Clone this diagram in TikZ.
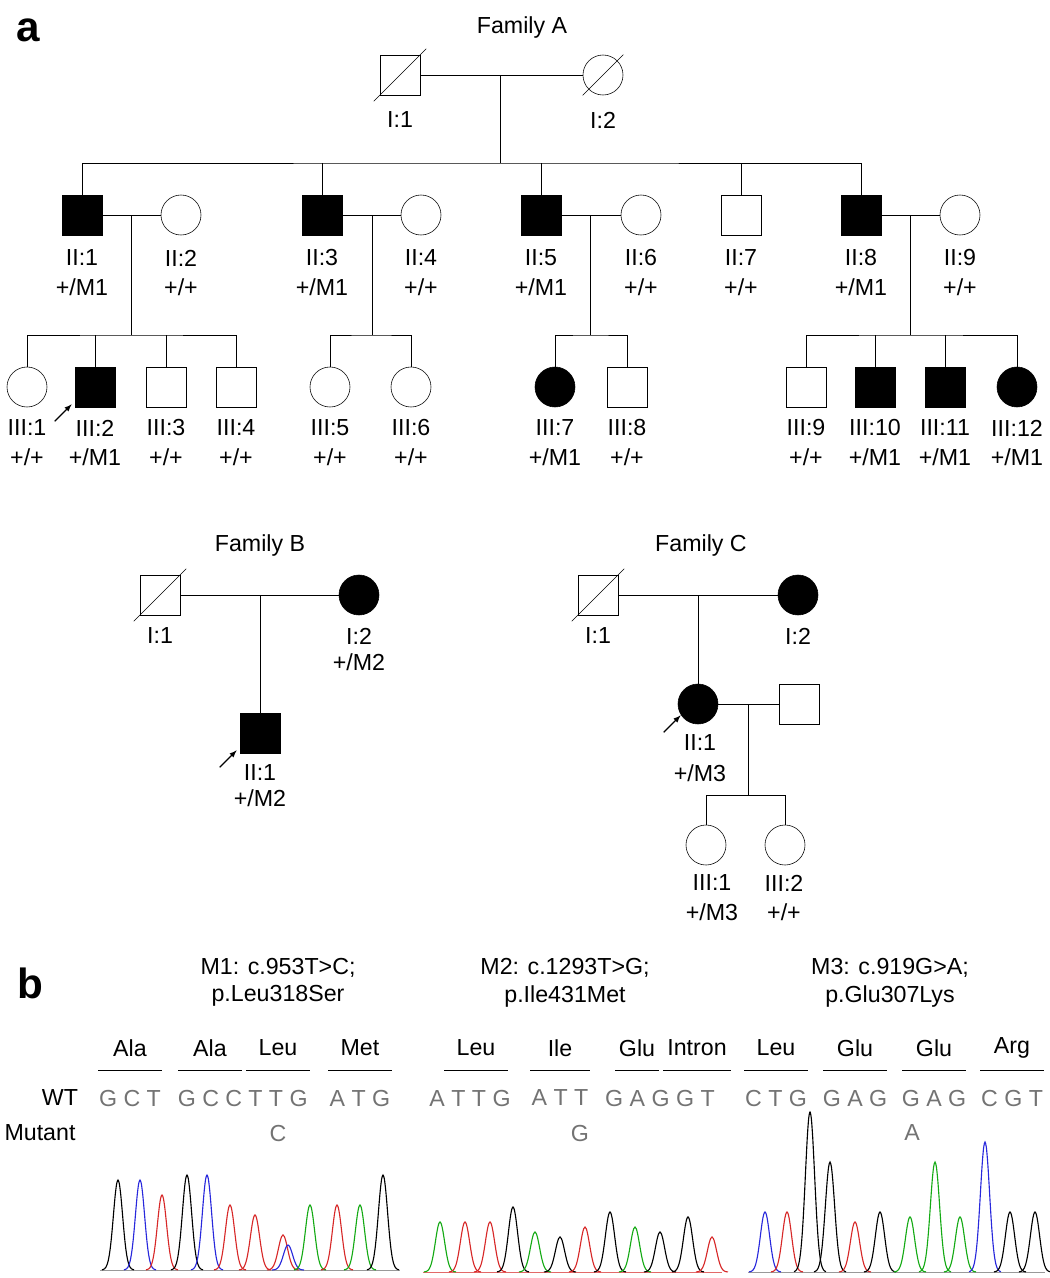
\documentclass[tikz,border=0pt]{standalone}
\usepackage{fontspec}
\setmainfont{Liberation Sans}
\usepackage{tikz}
\usetikzlibrary{calc}
\definecolor{trgreen}{RGB}{20,170,20}
\definecolor{trblue}{RGB}{40,40,220}
\definecolor{trred}{RGB}{215,40,40}
\tikzset{
  male/.style={draw,rectangle,minimum size=1cm,inner sep=0pt},
  female/.style={draw,circle,minimum size=1cm,inner sep=0pt},
  aff/.style={fill=black},
  txt/.style={font=\fontsize{16.5}{18}\selectfont,inner sep=0pt},
  base/.style={font=\fontsize{16.5}{18}\selectfont,inner sep=0pt,text=black!55},
}
\newcommand{\deceased}[1]{\draw ($(#1.south west)+(-6,6)$) -- ($(#1.north east)+(6,-6)$);}
\newcommand{\proband}[1]{\draw[-latex,thick] ($(#1.south west)+(-20,14)$) -- ($(#1.south west)+(-3,-3)$);}
\newcommand{\gt}[1]{+/#1}
\newcommand{\peak}[4]{\pgfmathsetmacro{\pa}{#1-16}\pgfmathsetmacro{\pb}{#1+16}%
  \draw[#4,thick] plot[domain=\pa:\pb,samples=25,smooth] (\x,{#3-#2*exp(-((\x-#1)/6.5)^2)});}
\begin{document}
\begin{tikzpicture}[x=0.025cm,y=-0.025cm]
\useasboundingbox (0,0) rectangle (1050,1278);
\node[font=\fontsize{30}{30}\bfseries\selectfont] (pa) at (28,30) {a};
\node[font=\fontsize{30}{30}\bfseries\selectfont] (pb) at (30,983) {b};

% Family A
\node[txt] (famA) at (522,27) {Family A};
\node[male] (AI1) at (400,75) {}; \deceased{AI1}
\node[female] (AI2) at (603,75) {}; \deceased{AI2}
\node[txt] at (400,120) {I:1};
\node[txt] at (603,120) {I:2};
\draw (AI1) -- (AI2);
\coordinate (mA) at (500,75);
\coordinate (sibA) at (500,163);
\draw (mA) -- (sibA);
\node[male,aff] (AII1) at (82,215) {};
\node[female] (AII2) at (181,215) {};
\node[male,aff] (AII3) at (322,215) {};
\node[female] (AII4) at (421,215) {};
\node[male,aff] (AII5) at (541,215) {};
\node[female] (AII6) at (641,215) {};
\node[male] (AII7) at (741,215) {};
\node[male,aff] (AII8) at (861,215) {};
\node[female] (AII9) at (960,215) {};
\draw (AII1.north) |- (sibA) -| (AII8.north);
\foreach \n in {AII3,AII5,AII7} \draw (\n.north) -- (\n.north |- sibA);
\draw (AII1) -- (AII2); \draw (AII3) -- (AII4); \draw (AII5) -- (AII6); \draw (AII8) -- (AII9);
\foreach \lx/\la/\lb in {82/II:1/M1,181/II:2/+,322/II:3/M1,421/II:4/+,541/II:5/M1,641/II:6/+,741/II:7/+,861/II:8/M1,960/II:9/+}{
  \node[txt] at (\lx,258) {\la};
  \node[txt] at (\lx,287) {\gt{\lb}};
}
% generation III
\node[female] (AIII1) at (27,387) {};
\node[male,aff] (AIII2) at (95,387) {};
\node[male] (AIII3) at (166,387) {};
\node[male] (AIII4) at (236,387) {};
\node[female] (AIII5) at (330,387) {};
\node[female] (AIII6) at (411,387) {};
\node[female,aff] (AIII7) at (555,387) {};
\node[male] (AIII8) at (627,387) {};
\node[male] (AIII9) at (806,387) {};
\node[male,aff] (AIII10) at (875,387) {};
\node[male,aff] (AIII11) at (945,387) {};
\node[female,aff] (AIII12) at (1017,387) {};
\coordinate (m1) at (131,215); \coordinate (s1) at (131,335);
\coordinate (m2) at (372,215); \coordinate (s2) at (372,335);
\coordinate (m3) at (590,215); \coordinate (s3) at (590,335);
\coordinate (m4) at (910,215); \coordinate (s4) at (910,335);
\draw (m1) -- (s1); \draw (m2) -- (s2); \draw (m3) -- (s3); \draw (m4) -- (s4);
\draw (AIII1.north) |- (s1) -| (AIII4.north);
\draw (AIII2.north) -- (AIII2.north |- s1); \draw (AIII3.north) -- (AIII3.north |- s1);
\draw (AIII5.north) |- (s2) -| (AIII6.north);
\draw (AIII7.north) |- (s3) -| (AIII8.north);
\draw (AIII9.north) |- (s4) -| (AIII12.north);
\draw (AIII10.north) -- (AIII10.north |- s4); \draw (AIII11.north) -- (AIII11.north |- s4);
\proband{AIII2}
\foreach \lx/\la/\lb in {27/III:1/+,95/III:2/M1,166/III:3/+,236/III:4/+,330/III:5/+,411/III:6/+,555/III:7/M1,627/III:8/+,806/III:9/+,875/III:10/M1,945/III:11/M1,1017/III:12/M1}{
  \node[txt] at (\lx,428) {\la};
  \node[txt] at (\lx,457) {\gt{\lb}};
}

% Family B
\node[txt] (famB) at (260,545) {Family B};
\node[male] (BI1) at (160,595) {}; \deceased{BI1}
\node[female,aff] (BI2) at (359,595) {};
\draw (BI1) -- (BI2);
\node[male,aff] (BII1) at (260,733) {};
\coordinate (mB) at (260,595);
\draw (mB) -- (BII1);
\proband{BII1}
\node[txt] at (160,636) {I:1};
\node[txt] at (359,636) {I:2};
\node[txt] at (359,662) {+/M2};
\node[txt] at (260,773) {II:1};
\node[txt] at (260,798) {+/M2};

% Family C
\node[txt] (famC) at (701,545) {Family C};
\node[male] (CI1) at (598,595) {}; \deceased{CI1}
\node[female,aff] (CI2) at (798,595) {};
\draw (CI1) -- (CI2);
\node[female,aff] (CII1) at (698,704) {};
\node[male] (CII2) at (799,704) {};
\coordinate (mC) at (698,595);
\draw (mC) -- (CII1);
\draw (CII1) -- (CII2);
\proband{CII1}
\node[female] (CIII1) at (706,845) {};
\node[female] (CIII2) at (785,845) {};
\coordinate (mC2) at (748,704); \coordinate (sC) at (748,795);
\draw (mC2) -- (sC);
\draw (CIII1.north) |- (sC) -| (CIII2.north);
\node[txt] at (598,636) {I:1};
\node[txt] at (798,636) {I:2};
\node[txt] at (700,743) {II:1};
\node[txt] at (700,773) {+/M3};
\node[txt] at (712,883) {III:1};
\node[txt] at (712,912) {+/M3};
\node[txt] at (784,883) {III:2};
\node[txt] at (784,912) {+/+};

% panel b
\node[txt] at (278,968) {M1: c.953T>C;};
\node[txt] at (278,996) {p.Leu318Ser};
\node[txt] at (565,968) {M2: c.1293T>G;};
\node[txt] at (565,996) {p.Ile431Met};
\node[txt] at (890,968) {M3: c.919G>A;};
\node[txt] at (890,996) {p.Glu307Lys};
\foreach \ax/\am/\aw in {130/Ala/32,210/Ala/32,278/Leu/32,360/Met/32,476/Leu/32,560/Ile/30,637/Glu/22,697/Intron/34,776/Leu/32,855/Glu/32,934/Glu/32,1012/Arg/32}{
  \node[txt] at (\ax,1048) {\am};
  \draw (\ax-\aw,1070) -- (\ax+\aw,1070);
}
\node[txt] at (60,1098) {WT};
\node[txt] at (40,1133) {Mutant};
\foreach \bx/\bs in {130/G C T,210/G C C,278/T T G,360/A T G,470/A T T G,560/A T T,660/G A G G T,776/C T G,855/G A G,934/G A G,1012/C G T}
  \node[base] at (\bx,1098) {\bs};
\node[base] at (278,1133) {C};
\node[base] at (580,1133) {G};
\node[base] at (912,1133) {A};

% chromatograms
\draw[black!40] (100,1270) -- (400,1270);
\draw[trred!70] (423,1272) -- (722,1272);
\draw[black!40] (748,1272) -- (1045,1272);
\foreach \px/\ph/\pc in {118/90/black,140/90/trblue,162/75/trred,187/95/black,207/95/trblue,230/65/trred,255/55/trred,283/35/trred,288/25/trblue,310/65/trgreen,337/65/trred,360/65/trgreen,383/95/black}
  {\peak{\px}{\ph}{1270}{\pc}}
\foreach \px/\ph/\pc in {440/50/trgreen,465/50/trred,490/50/trred,513/65/black,535/40/trgreen,560/35/black,585/45/trred,610/60/black,635/45/trgreen,660/40/black,688/55/black,712/35/trred}
  {\peak{\px}{\ph}{1272}{\pc}}
\foreach \px/\ph/\pc in {765/60/trblue,787/60/trred,810/160/black,830/110/black,855/50/trred,880/60/black,910/55/trgreen,935/110/trgreen,960/55/trgreen,985/130/trblue,1010/60/black,1035/60/black}
  {\peak{\px}{\ph}{1272}{\pc}}
\end{tikzpicture}
\end{document}
